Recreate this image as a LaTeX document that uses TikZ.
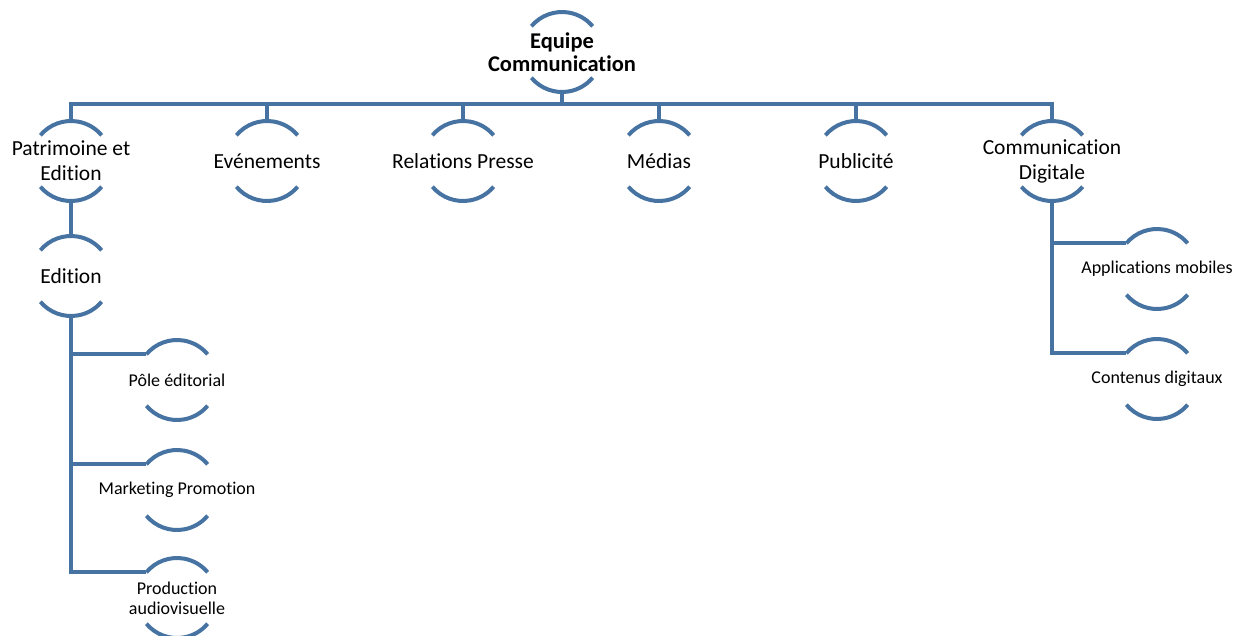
\documentclass[tikz,border=0pt]{standalone}
\usepackage{fontspec}
\setmainfont{Carlito}[Ligatures=NoCommon]
\usetikzlibrary{positioning, calc}
\definecolor{arcblue}{RGB}{70,115,162}

\begin{document}
\begin{tikzpicture}[
  x=1pt, y=1pt,
  unit/.style={circle, minimum size=80pt, inner sep=0pt, outer sep=0pt}, % invisible circle
  % text sits in a centred label, so the circle keeps its size
  headunit/.style={unit, label={[align=center, font=\fontsize{22.5}{23}\selectfont\bfseries]center:#1}},
  mainunit/.style={unit, label={[align=center, font=\fontsize{21.5}{25}\selectfont]center:#1}},
  subunit/.style={unit, label={[align=center, font=\fontsize{18}{20}\selectfont]center:#1}},
  arcline/.style={draw=arcblue, line width=4pt},
  link/.style={draw=arcblue, line width=4pt},
]
  \useasboundingbox (0,0) rectangle (1250,-635);

  % head
  \node[headunit={Equipe\\Communication}] (top) at (562,-52) {};

  % first level
  \node[mainunit={Patrimoine et\\Edition}] (patr) at (71,-161) {};
  \node[mainunit={Evénements}] (even) at (267,-161) {};
  \node[mainunit={Relations Presse}] (press) at (463,-161) {};
  \node[mainunit={Médias}] (media) at (659,-161) {};
  \node[mainunit={Publicité}] (pub) at (856,-161) {};
  \node[mainunit={Communication\\Digitale}] (digi) at (1052,-161) {};

  % below Patrimoine et Edition
  \node[mainunit={Edition}] (edit) at (71,-276) {};
  \node[subunit={Pôle éditorial}] (pole) at (177,-380) {};
  \node[subunit={Marketing Promotion}] (mark) at (177,-490) {};
  \node[subunit={Production\\audiovisuelle}] (prod) at (177,-598) {};

  % below Communication Digitale
  \node[subunit={Applications mobiles}] (appl) at (1157,-269) {};
  \node[subunit={Contenus digitaux}] (cont) at (1157,-379) {};

  % arcs above and below every unit
  \foreach \n in {top,patr,even,press,media,pub,digi,edit,pole,mark,prod,appl,cont}{
    \draw[arcline] (\n.140) arc[start angle=140, end angle=40, radius=40pt];
    \draw[arcline] (\n.-140) arc[start angle=-140, end angle=-40, radius=40pt];
  }

  % bus from head to first level
  \coordinate[below=12pt of top.south] (bus);
  \draw[link] (top.south) -- (bus);
  \draw[link] (patr.north) |- (bus) -| (digi.north);
  \foreach \n in {even,press,media,pub}
    \draw[link] (\n.north) -- (\n.north |- bus);

  % Patrimoine et Edition branch
  \draw[link] (patr.south) -- (edit.north);
  \draw[link] (edit.south) |- (prod.140);
  \foreach \n in {pole,mark}
    \draw[link] (\n.140) -- (\n.140 -| edit.south);

  % Communication Digitale branch
  \draw[link] (digi.south) |- (cont.140);
  \draw[link] (appl.140) -- (appl.140 -| digi.south);
\end{tikzpicture}
\end{document}
